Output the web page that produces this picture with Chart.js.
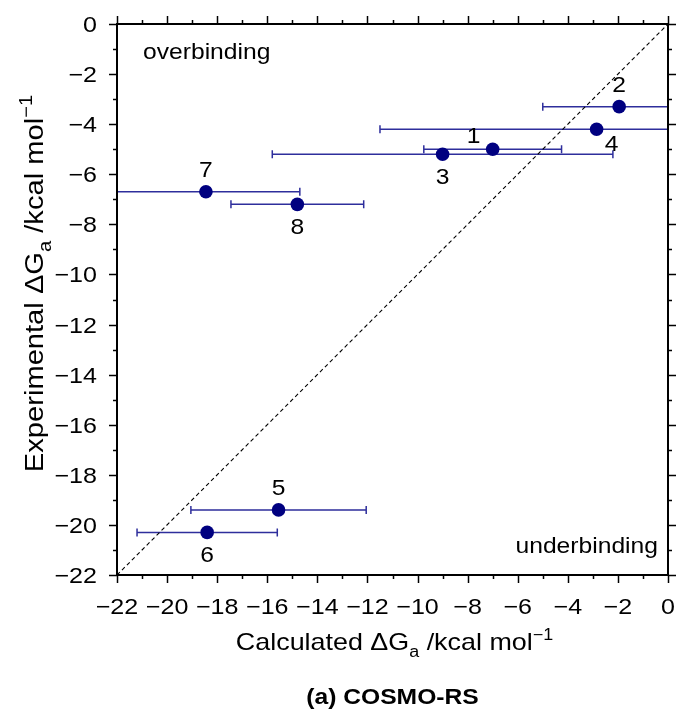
<!DOCTYPE html>
<html>
<head>
<meta charset="utf-8">
<script src="https://cdn.jsdelivr.net/npm/chart.js@4/dist/chart.umd.min.js"></script>
<style>
html,body{margin:0;padding:0;background:#fff}
#wrap{width:680px;height:711px;position:relative}
</style>
</head>
<body>
<div id="wrap"><canvas id="c" width="680" height="711"></canvas></div>
<script>
// ---- data ----
const compoundLabels = ['1', '2', '3', '4', '5', '6', '7', '8'];
const calculated     = [-7.0, -1.95, -9.0, -2.85, -15.55, -18.4, -18.45, -14.8];
const experimental   = [-5.0, -3.3, -5.2, -4.2, -19.4, -20.3, -6.7, -7.2];
const calcError      = [2.75, 3.05, 6.8, 8.65, 3.5, 2.8, 3.75, 2.65];
const diagonal       = [-22, 0];
const axisMin = -22, axisMax = 0, majorStep = 2, minorStep = 1;

// label placement (style, not data)
const labelPlacement = ['upperLeft', 'above', 'below', 'lowerRight', 'above', 'below', 'above', 'below'];

const FONT = '"Liberation Sans", Arial, Helvetica, sans-serif';
const POINT_COLOR = '#000080';
const BAR_COLOR = '#2e2e9c';
const STRETCH = 1.12;

const fmt = v => (v < 0 ? '\u2212' + Math.abs(v) : String(v));

const points = calculated.map((x, i) => ({ x: x, y: experimental[i] }));
const diagPts = diagonal.map(v => ({ x: v, y: v }));

function drawText(ctx, text, font, x, y, align, baseline, stretch) {
  const s = stretch || STRETCH;
  ctx.save();
  ctx.font = font;
  ctx.fillStyle = '#000';
  ctx.textBaseline = baseline || 'alphabetic';
  ctx.textAlign = 'left';
  const w = ctx.measureText(text).width * s;
  let left = x;
  if (align === 'center') left = x - w / 2;
  else if (align === 'right') left = x - w;
  ctx.translate(left, y);
  ctx.scale(s, 1);
  ctx.fillText(text, 0, 0);
  ctx.restore();
}

function drawRich(ctx, parts, size, x, y, rotate) {
  ctx.save();
  ctx.translate(x, y);
  if (rotate) ctx.rotate(-Math.PI / 2);
  ctx.scale(STRETCH, 1);
  const small = Math.round(size * 0.68);
  let total = 0;
  parts.forEach(p => {
    ctx.font = (p.sub || p.sup ? small : size) + 'px ' + FONT;
    p.w = ctx.measureText(p.t).width;
    total += p.w;
  });
  let cx = -total / 2;
  ctx.fillStyle = '#000';
  ctx.textBaseline = 'alphabetic';
  ctx.textAlign = 'left';
  parts.forEach(p => {
    ctx.font = (p.sub || p.sup ? small : size) + 'px ' + FONT;
    let dy = 0;
    if (p.sub) dy = size * 0.3;
    if (p.sup) dy = -size * 0.42;
    ctx.fillText(p.t, cx, dy);
    cx += p.w;
  });
  ctx.restore();
}

const decorPlugin = {
  id: 'decor',
  beforeDatasetsDraw(chart) {
    const { ctx, chartArea: a, scales: { x, y } } = chart;
    ctx.save();
    ctx.beginPath();
    ctx.rect(a.left, a.top, a.right - a.left, a.bottom - a.top);
    ctx.clip();
    ctx.strokeStyle = BAR_COLOR;
    ctx.lineWidth = 1.5;
    const cap = 4;
    calculated.forEach((cv, i) => {
      const py = y.getPixelForValue(experimental[i]);
      const x1 = x.getPixelForValue(cv - calcError[i]);
      const x2 = x.getPixelForValue(cv + calcError[i]);
      ctx.beginPath();
      ctx.moveTo(x1, py); ctx.lineTo(x2, py);
      ctx.moveTo(x1, py - cap); ctx.lineTo(x1, py + cap);
      ctx.moveTo(x2, py - cap); ctx.lineTo(x2, py + cap);
      ctx.stroke();
    });
    ctx.restore();
  },
  afterDatasetsDraw(chart) {
    const { ctx, chartArea: a, scales: { x, y } } = chart;
    compoundLabels.forEach((lab, i) => {
      const px = x.getPixelForValue(calculated[i]);
      const py = y.getPixelForValue(experimental[i]);
      let dx = 0, dy = 0;
      switch (labelPlacement[i]) {
        case 'above': dy = -21; break;
        case 'below': dy = 24; break;
        case 'upperLeft': dx = -19; dy = -12; break;
        case 'lowerRight': dx = 15; dy = 16; break;
      }
      drawText(ctx, lab, '22px ' + FONT, px + dx, py + dy, 'center', 'middle');
    });
    // region annotations
    drawText(ctx, 'overbinding', '22px ' + FONT, a.left + 26, a.top + 35, 'left');
    drawText(ctx, 'underbinding', '22px ' + FONT, a.right - 10, a.bottom - 22, 'right');
  },
  afterDraw(chart) {
    const { ctx, chartArea: a, scales: { x, y } } = chart;
    ctx.save();
    ctx.strokeStyle = '#000';
    // frame
    ctx.lineWidth = 2;
    ctx.strokeRect(a.left, a.top, a.right - a.left, a.bottom - a.top);
    // ticks (major + minor) on all four sides, outward
    ctx.lineWidth = 1.5;
    ctx.beginPath();
    for (let v = axisMin; v <= axisMax + 1e-9; v += minorStep) {
      const major = Math.abs(v % majorStep) < 1e-9;
      const len = major ? 8 : 4;
      const px = Math.round(x.getPixelForValue(v)) + 0.5;
      const py = Math.round(y.getPixelForValue(v)) + 0.5;
      ctx.moveTo(px, a.bottom); ctx.lineTo(px, a.bottom + len);
      ctx.moveTo(px, a.top); ctx.lineTo(px, a.top - len);
      ctx.moveTo(a.left, py); ctx.lineTo(a.left - len, py);
      ctx.moveTo(a.right, py); ctx.lineTo(a.right + len, py);
    }
    ctx.stroke();
    ctx.restore();
    // tick labels from the library's generated ticks
    const tickFont = '22px ' + FONT;
    x.ticks.forEach(t => {
      drawText(ctx, fmt(t.value), tickFont, x.getPixelForValue(t.value), a.bottom + 39, 'center', 'alphabetic', 1.14);
    });
    y.ticks.forEach(t => {
      drawText(ctx, fmt(t.value), tickFont, a.left - 20, y.getPixelForValue(t.value) + 8, 'right', 'alphabetic', 1.14);
    });
    // axis titles
    const cxm = (a.left + a.right) / 2, cym = (a.top + a.bottom) / 2;
    drawRich(ctx, [{ t: 'Calculated \u0394G' }, { t: 'a', sub: true }, { t: ' /kcal mol' }, { t: '\u22121', sup: true }], 24, cxm + 2, 650, false);
    drawRich(ctx, [{ t: 'Experimental \u0394G' }, { t: 'a', sub: true }, { t: ' /kcal mol' }, { t: '\u22121', sup: true }], 26, 43, cym - 16, true);
    // caption
    drawText(ctx, '(a) COSMO-RS', 'bold 22px ' + FONT, cxm, 704, 'center');
  }
};

const axisCommon = {
  type: 'linear',
  min: axisMin,
  max: axisMax,
  grid: { display: false, drawTicks: false },
  border: { display: false },
  ticks: {
    display: false,
    stepSize: majorStep,
    autoSkip: false,
    callback: v => fmt(v)
  }
};

new Chart(document.getElementById('c'), {
  type: 'scatter',
  data: {
    datasets: [
      {
        data: diagPts,
        showLine: true,
        borderColor: '#000',
        borderWidth: 1.1,
        borderDash: [4, 3],
        pointRadius: 0,
        fill: false
      },
      {
        data: points,
        pointRadius: 6.8,
        pointHoverRadius: 6.8,
        backgroundColor: POINT_COLOR,
        borderWidth: 0
      }
    ]
  },
  options: {
    responsive: false,
    animation: false,
    devicePixelRatio: 1,
    layout: { padding: { top: 24, right: 12, left: 0, bottom: 0 } },
    plugins: { legend: { display: false }, tooltip: { enabled: false }, title: { display: false } },
    scales: {
      x: Object.assign({}, axisCommon, {
        position: 'bottom',
        afterFit: s => { s.height = 136; s.paddingLeft = 0; s.paddingRight = 0; }
      }),
      y: Object.assign({}, axisCommon, {
        position: 'left',
        afterFit: s => { s.width = 117; s.paddingTop = 0; s.paddingBottom = 0; }
      })
    }
  },
  plugins: [decorPlugin]
});
</script>
</body>
</html>
